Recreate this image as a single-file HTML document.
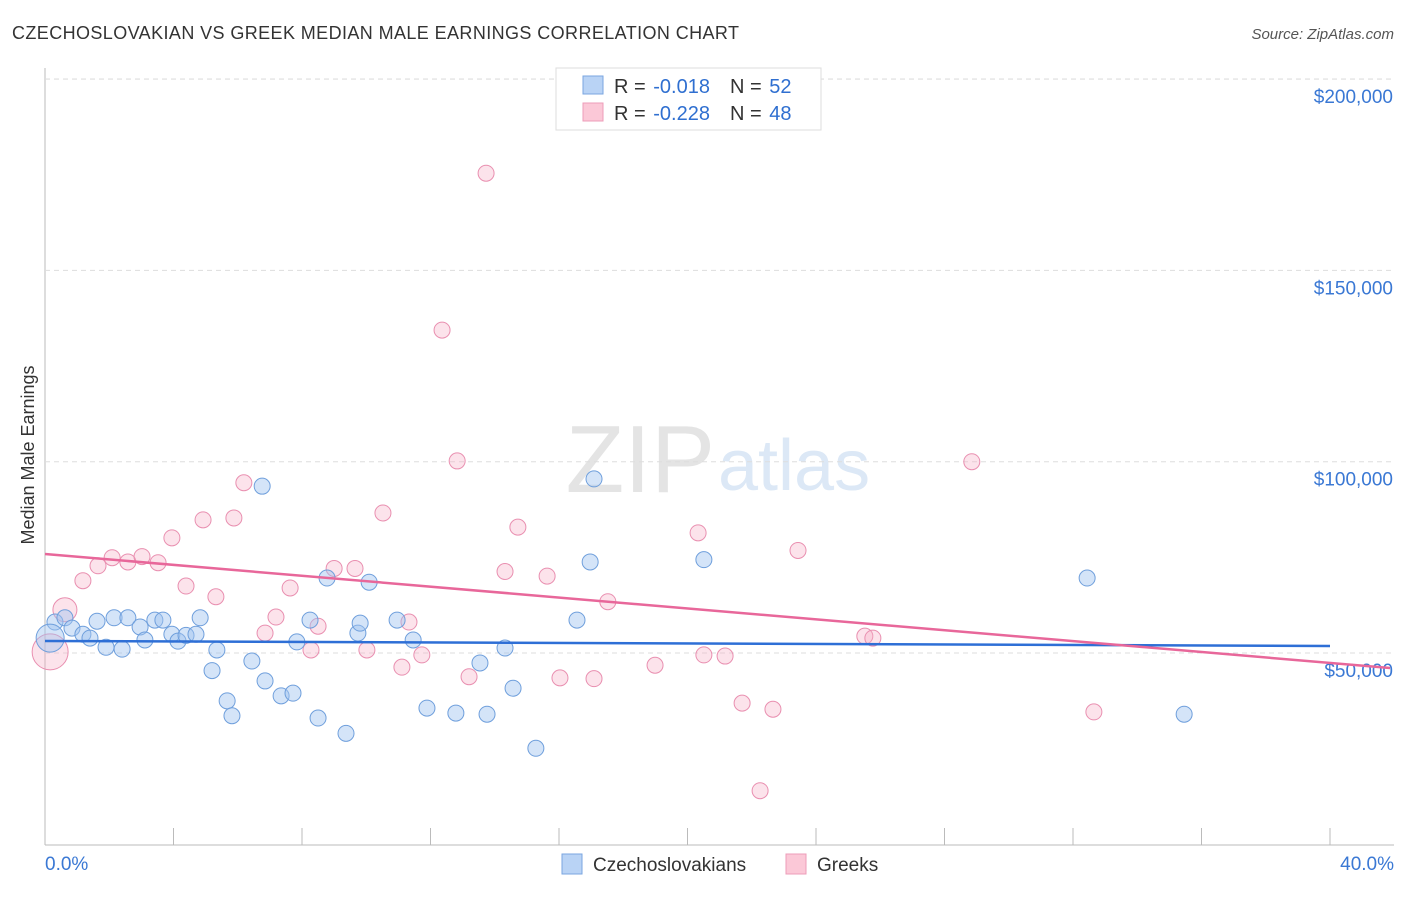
<!DOCTYPE html>
<html><head><meta charset="utf-8"><style>
body{margin:0;background:#fff;font-family:"Liberation Sans",sans-serif;}
svg text{font-family:"Liberation Sans",sans-serif;}
</style></head><body>
<svg width="1406" height="892" id="chart">
<text x="12" y="39" font-size="18" fill="#333" textLength="727">CZECHOSLOVAKIAN VS GREEK MEDIAN MALE EARNINGS CORRELATION CHART</text>
<text x="1394" y="39" font-size="15" fill="#555" font-style="italic" text-anchor="end">Source: ZipAtlas.com</text>
<text x="34" y="455" font-size="18" fill="#333" transform="rotate(-90 34 455)" text-anchor="middle">Median Male Earnings</text>
<text x="715" y="492" font-size="96" fill="#e4e4e4" text-anchor="end" font-family="Liberation Serif">ZIP</text>
<text x="718" y="490" font-size="72" fill="#dce8f6">atlas</text>
<g id="grid"></g><g id="marks"></g>
<g>
<rect x="556" y="68" width="265" height="62" fill="#fff" stroke="#ddd"/>
<rect x="583" y="76" width="20" height="18" fill="#b9d3f5" stroke="#7aa6e0"/>
<rect x="583" y="103" width="20" height="18" fill="#fbc8d7" stroke="#ee9cb8"/>
<text x="614" y="93" font-size="20" fill="#333">R = <tspan fill="#2f6fd0" dx="2">-0.018</tspan><tspan dx="20">N = </tspan><tspan fill="#2f6fd0" dx="2">52</tspan></text>
<text x="614" y="120" font-size="20" fill="#333">R = <tspan fill="#2f6fd0" dx="2">-0.228</tspan><tspan dx="20">N = </tspan><tspan fill="#2f6fd0" dx="2">48</tspan></text>
</g>
<g>
<rect x="562" y="854" width="20" height="20" fill="#b9d3f5" stroke="#7aa6e0"/>
<text x="593" y="871" font-size="19" fill="#333">Czechoslovakians</text>
<rect x="786" y="854" width="20" height="20" fill="#fbc8d7" stroke="#ee9cb8"/>
<text x="817" y="871" font-size="19" fill="#333">Greeks</text>
</g>
</svg>
<script>
const yTicks=[50000,100000,150000,200000];
const yTickLabels=["$50,000","$100,000","$150,000","$200,000"];
const xTickLabels=["0.0%","40.0%"];
const blueX=[0.31,0.62,0.84,1.18,1.40,1.62,1.90,2.15,2.40,2.58,2.96,3.11,3.42,3.67,3.95,4.14,4.39,4.70,4.83,5.20,5.35,5.67,5.82,6.44,6.76,6.85,7.35,7.72,7.84,8.25,8.50,8.78,9.37,9.74,9.81,10.09,10.96,11.46,11.89,12.79,13.54,13.76,14.32,14.57,15.28,16.56,16.97,17.09,20.51,32.44,35.46,0.16];
const blueY=[58100,59200,56500,54900,53900,58300,51500,59200,51000,59200,56800,53400,58600,58600,54900,53100,54600,54900,59200,45400,50800,37500,33600,47900,93600,42700,38800,39500,52900,58600,33000,69600,29000,55200,57800,68500,58600,53400,35600,34300,47400,34000,51300,40800,25100,58600,73800,95500,74400,69600,34000,53900];
const pinkX=[0.16,0.62,1.18,1.65,2.09,2.58,3.02,3.52,3.95,4.39,4.92,5.32,5.88,6.19,6.85,7.19,7.63,8.28,8.50,9.00,9.65,10.02,10.52,11.11,11.33,11.73,12.36,12.83,13.20,13.73,14.32,14.72,15.63,16.03,17.09,17.52,18.99,20.33,20.51,21.17,21.70,22.66,22.26,23.44,25.52,25.77,28.85,32.65];
const pinkY=[50300,61300,68900,72800,74900,73800,75200,73600,80100,67500,84800,64700,85300,94500,55200,59400,67000,50800,57000,72100,72100,50800,86600,46300,58100,49500,134400,100200,43800,175400,71300,82900,70100,43500,43300,63400,46800,81400,49500,49200,36900,35300,14000,76800,54400,53900,100000,34600];
const blueTrend=[53140,51830];
const pinkTrend=[75880,46080];
const pinkTrendEndX=41.87;

const ns="http://www.w3.org/2000/svg";
const X=v=>45+v*32.125;
const Y=v=>653-(v-50000)*191.3/50000;
function mk(t,a,p){const e=document.createElementNS(ns,t);for(const k in a)e.setAttribute(k,a[k]);p.appendChild(e);return e;}
const g=document.getElementById('grid'),m=document.getElementById('marks');
mk('line',{x1:45,y1:68,x2:45,y2:845,stroke:'#bbb'},g);
mk('line',{x1:45,y1:845,x2:1394,y2:845,stroke:'#bbb'},g);
mk('line',{x1:45,y1:79,x2:1394,y2:79,stroke:'#ddd','stroke-dasharray':'5,4'},g);
for(let i=0;i<=10;i++){const l=mk('line',{x1:X(i*4),y1:828,x2:X(i*4),y2:845,stroke:'#bbb'},g);

}
yTicks.forEach((v,i)=>{mk('line',{x1:45,y1:Y(v),x2:1394,y2:Y(v),stroke:'#ddd','stroke-dasharray':'5,4'},g);
const t=mk('text',{x:1393,y:Y(v)+24,'font-size':19,fill:'#3a78d4','text-anchor':'end'},g);t.textContent=yTickLabels[i];

});
[[45,'start'],[1394,'end']].forEach((p,i)=>{const t=mk('text',{x:p[0],y:870,'font-size':19,fill:'#3a78d4','text-anchor':p[1]},g);t.textContent=xTickLabels[i];

});
pinkX.forEach((x,i)=>{const r=i==0?18:(i==1?12:8);const c=mk('circle',{cx:X(x),cy:Y(pinkY[i]),r:r,fill:'rgba(246,176,198,0.35)',stroke:'#e98fb0','stroke-width':1},m);

});
blueX.forEach((x,i)=>{const r=i==51?14:8;const c=mk('circle',{cx:X(x),cy:Y(blueY[i]),r:r,fill:'rgba(160,196,240,0.45)',stroke:'#6f9fdc','stroke-width':1},m);

});
const bl=mk('line',{x1:X(0),y1:Y(blueTrend[0]),x2:X(40),y2:Y(blueTrend[1]),stroke:'#2e6fd6','stroke-width':2.5},m);


const pl=mk('line',{x1:X(0),y1:Y(pinkTrend[0]),x2:X(pinkTrendEndX),y2:Y(pinkTrend[1]),stroke:'#e8679a','stroke-width':2.5},m);


</script>
</body></html>
